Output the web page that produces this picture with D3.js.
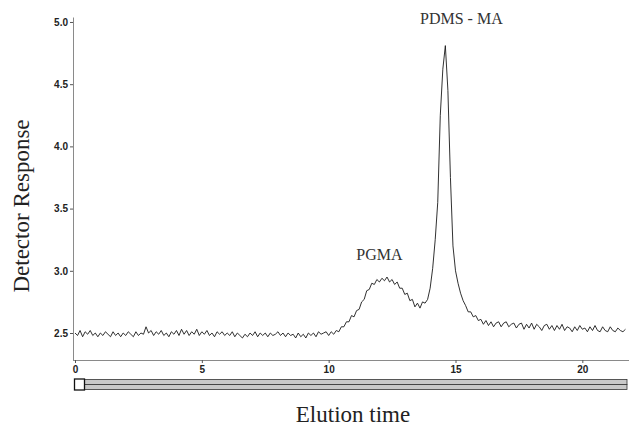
<!DOCTYPE html>
<html>
<head>
<meta charset="utf-8">
<script src="https://cdn.jsdelivr.net/npm/d3@7"></script>
<style>
  body { margin: 0; background: #fff; }
  svg { display: block; }
</style>
</head>
<body>
<svg id="chart" width="629" height="430"></svg>
<script>
// sampling of the trace, minutes
var sampleStep = 0.1;

// detector response, one value per 0.1 min from 0.0
var detectorResponse = [
  2.50, 2.48, 2.52, 2.47, 2.51, 2.49, 2.52, 2.48, 2.50, 2.47,
  2.50, 2.48, 2.51, 2.49, 2.47, 2.51, 2.48, 2.50, 2.47, 2.50,
  2.48, 2.51, 2.49, 2.47, 2.51, 2.48, 2.50, 2.49, 2.55, 2.50,
  2.52, 2.48, 2.51, 2.49, 2.52, 2.48, 2.50, 2.47, 2.51, 2.49,
  2.52, 2.48, 2.53, 2.49, 2.52, 2.48, 2.51, 2.49, 2.53, 2.48,
  2.51, 2.49, 2.52, 2.48, 2.50, 2.47, 2.51, 2.49, 2.51, 2.48,
  2.50, 2.48, 2.51, 2.47, 2.50, 2.48, 2.46, 2.49, 2.47, 2.50,
  2.48, 2.51, 2.47, 2.50, 2.48, 2.50, 2.47, 2.50, 2.48, 2.49,
  2.51, 2.48, 2.50, 2.47, 2.50, 2.48, 2.49, 2.46, 2.50, 2.47,
  2.49, 2.46, 2.50, 2.48, 2.50, 2.47, 2.51, 2.49, 2.50, 2.51,
  2.48, 2.51, 2.49, 2.52, 2.51, 2.55, 2.55, 2.59, 2.59, 2.64,
  2.63, 2.68, 2.69, 2.75, 2.77, 2.84, 2.85, 2.90, 2.89, 2.93,
  2.91, 2.94, 2.92, 2.95, 2.91, 2.93, 2.89, 2.91, 2.86, 2.86,
  2.81, 2.82, 2.76, 2.77, 2.71, 2.74, 2.70, 2.75, 2.74, 2.77,
  2.86, 3.02, 3.25, 3.55, 4.25, 4.62, 4.81, 4.45, 3.75, 3.20,
  3.00, 2.90, 2.82, 2.76, 2.72, 2.67, 2.67, 2.63, 2.64, 2.60,
  2.61, 2.57, 2.60, 2.56, 2.59, 2.55, 2.58, 2.59, 2.55, 2.58,
  2.59, 2.55, 2.57, 2.58, 2.54, 2.57, 2.58, 2.53, 2.57, 2.54,
  2.58, 2.53, 2.57, 2.55, 2.52, 2.56, 2.57, 2.53, 2.56, 2.52,
  2.56, 2.53, 2.57, 2.52, 2.55, 2.54, 2.51, 2.55, 2.52, 2.56,
  2.53, 2.54, 2.51, 2.55, 2.52, 2.56, 2.52, 2.51, 2.55, 2.52,
  2.51, 2.55, 2.52, 2.51, 2.54, 2.52, 2.51, 2.53
];

var xTicks = [0, 5, 10, 15, 20];
var yTicks = [2.5, 3.0, 3.5, 4.0, 4.5, 5.0];

var peakNames = ["PGMA", "PDMS - MA"];
var peakTimes = [12.2, 14.6];
var peakLabelValues = [3.09, 4.98];

var svg = d3.select("#chart");

var x = d3.scaleLinear().domain([0, 21.8]).range([75, 628]);
var y = d3.scaleLinear().domain([2.283, 5.04]).range([360, 17]);

var trace = detectorResponse.map(function (v, i) {
  return [i * sampleStep, v];
});

// y axis
var yAxis = svg.append("g")
  .attr("transform", "translate(73,0)")
  .call(d3.axisLeft(y).tickValues(yTicks).tickFormat(d3.format(".1f"))
    .tickSize(3).tickSizeOuter(0).tickPadding(2));
yAxis.select(".domain").attr("stroke", "#8a8a8a");
yAxis.selectAll(".tick line").attr("stroke", "#555");
yAxis.selectAll("text")
  .attr("font-family", "Liberation Sans, Arial, sans-serif")
  .attr("font-weight", "bold")
  .attr("font-size", 10)
  .attr("fill", "#222");

// x axis
var xAxis = svg.append("g")
  .attr("transform", "translate(0,360)")
  .call(d3.axisBottom(x).tickValues(xTicks).tickFormat(d3.format("d"))
    .tickSize(3).tickSizeOuter(0).tickPadding(3));
xAxis.select(".domain").attr("stroke", "#8a8a8a").attr("d", "M73,0.5H629");
xAxis.selectAll(".tick line").attr("stroke", "#555");
xAxis.selectAll("text")
  .attr("font-family", "Liberation Sans, Arial, sans-serif")
  .attr("font-weight", "bold")
  .attr("font-size", 10)
  .attr("fill", "#222");

// scroll bar under the x axis
var bar = svg.append("g");
bar.append("rect").attr("x", x(0)).attr("y", 379.5).attr("width", 552).attr("height", 5)
  .attr("fill", "#c9c9c9").attr("stroke", "#333").attr("stroke-width", 0.8);
bar.append("rect").attr("x", x(0)).attr("y", 384.5).attr("width", 552).attr("height", 5)
  .attr("fill", "#c9c9c9").attr("stroke", "#333").attr("stroke-width", 0.8);
bar.append("rect").attr("x", x(0) - 0.5).attr("y", 379).attr("width", 10).attr("height", 11)
  .attr("fill", "#fff").attr("stroke", "#111").attr("stroke-width", 1.3);

// trace
svg.append("path")
  .datum(trace)
  .attr("fill", "none")
  .attr("stroke", "#1a1a1a")
  .attr("stroke-width", 0.9)
  .attr("d", d3.line().x(function (d) { return x(d[0]); }).y(function (d) { return y(d[1]); }));

// peak labels
svg.selectAll(".peak")
  .data(peakNames)
  .enter().append("text")
  .attr("class", "peak")
  .attr("x", function (d, i) { return x(peakTimes[i]) + (i == 0 ? -5 : 16); })
  .attr("y", function (d, i) { return y(peakLabelValues[i]); })
  .attr("text-anchor", "middle")
  .attr("font-family", "Liberation Serif, Times New Roman, serif")
  .attr("font-size", 16)
  .attr("fill", "#333")
  .text(function (d) { return d; });

// axis titles
svg.append("text")
  .attr("transform", "translate(29,206) rotate(-90)")
  .attr("text-anchor", "middle")
  .attr("font-family", "Liberation Serif, Times New Roman, serif")
  .attr("font-size", 23)
  .attr("fill", "#222")
  .text("Detector Response");

svg.append("text")
  .attr("x", 353)
  .attr("y", 422)
  .attr("text-anchor", "middle")
  .attr("font-family", "Liberation Serif, Times New Roman, serif")
  .attr("font-size", 23)
  .attr("fill", "#222")
  .text("Elution time");
</script>
</body>
</html>
